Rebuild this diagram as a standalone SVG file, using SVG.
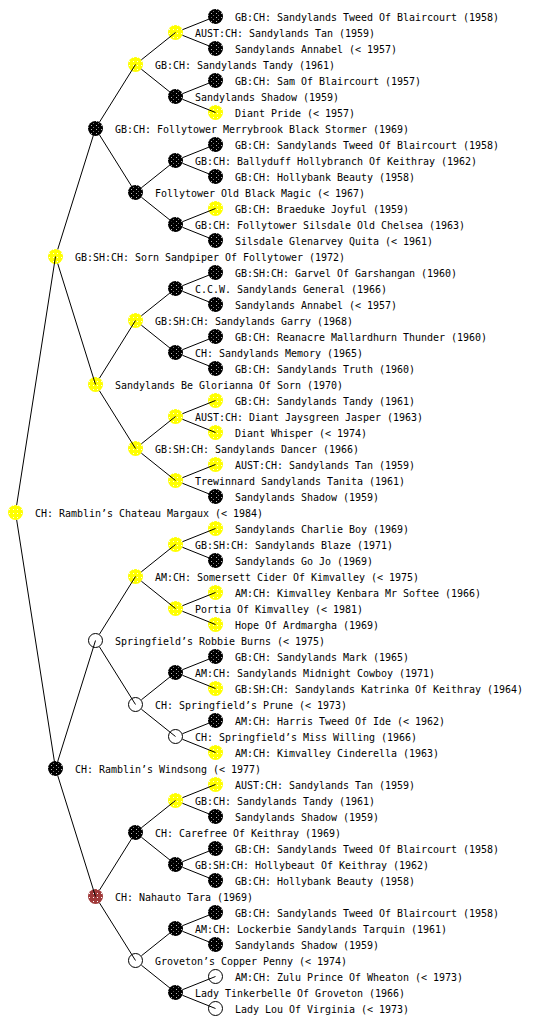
<svg xmlns="http://www.w3.org/2000/svg" width="560" height="1024" viewBox="0 0 560 1024">
<defs>
<pattern id="pb" patternUnits="userSpaceOnUse" x="0" y="0" width="5" height="4"><rect width="5" height="4" fill="#000"/><rect x="1" y="1" width="1" height="1" fill="#bbb"/><rect x="3" y="3" width="1" height="1" fill="#777"/></pattern>
<pattern id="py" patternUnits="userSpaceOnUse" x="0" y="0" width="4" height="4"><rect width="4" height="4" fill="#ffff00"/><rect x="1" y="1" width="1" height="1" fill="#fffff0"/></pattern>
<pattern id="pr" patternUnits="userSpaceOnUse" x="0" y="0" width="4" height="4"><rect width="4" height="4" fill="#a03a3a"/><rect x="1" y="1" width="1" height="1" fill="#fff"/></pattern>
</defs>
<style>
.b{fill:url(#pb)}
.y{fill:url(#py)}
.r{fill:url(#pr)}
.w{fill:#fff;stroke:#000;stroke-width:1}
text{font-family:"DejaVu Sans Mono","Liberation Mono",monospace;font-size:11px;fill:#000}
#connectors line{stroke:#000;stroke-width:1;fill:none}
</style>
<rect width="560" height="1024" fill="#fff"/>
<g id="nodes">
<g id="n0"><circle class="y" cx="15.5" cy="512.5" r="7.5"/><text x="35" y="516.5" textLength="228" lengthAdjust="spacingAndGlyphs">CH: Ramblin’s Chateau Margaux (&lt; 1984)</text></g>
<g id="n1a"><circle class="y" cx="55.5" cy="256.5" r="7.5"/><text x="75" y="260.5" textLength="270" lengthAdjust="spacingAndGlyphs">GB:SH:CH: Sorn Sandpiper Of Follytower (1972)</text></g>
<g id="n1b"><circle class="b" cx="55.5" cy="768.5" r="7.5"/><text x="75" y="772.5" textLength="186" lengthAdjust="spacingAndGlyphs">CH: Ramblin’s Windsong (&lt; 1977)</text></g>
<g id="n2a"><circle class="b" cx="95.5" cy="128.5" r="7.5"/><text x="115" y="132.5" textLength="294" lengthAdjust="spacingAndGlyphs">GB:CH: Follytower Merrybrook Black Stormer (1969)</text></g>
<g id="n2b"><circle class="y" cx="95.5" cy="384.5" r="7.5"/><text x="115" y="388.5" textLength="228" lengthAdjust="spacingAndGlyphs">Sandylands Be Glorianna Of Sorn (1970)</text></g>
<g id="n2c"><circle class="w" cx="95.5" cy="640.5" r="7"/><text x="115" y="644.5" textLength="210" lengthAdjust="spacingAndGlyphs">Springfield’s Robbie Burns (&lt; 1975)</text></g>
<g id="n2d"><circle class="r" cx="95.5" cy="896.5" r="7.5"/><text x="115" y="900.5" textLength="138" lengthAdjust="spacingAndGlyphs">CH: Nahauto Tara (1969)</text></g>
<g id="n3a"><circle class="y" cx="135.5" cy="64.5" r="7.5"/><text x="155" y="68.5" textLength="180" lengthAdjust="spacingAndGlyphs">GB:CH: Sandylands Tandy (1961)</text></g>
<g id="n3b"><circle class="b" cx="135.5" cy="192.5" r="7.5"/><text x="155" y="196.5" textLength="210" lengthAdjust="spacingAndGlyphs">Follytower Old Black Magic (&lt; 1967)</text></g>
<g id="n3c"><circle class="y" cx="135.5" cy="320.5" r="7.5"/><text x="155" y="324.5" textLength="198" lengthAdjust="spacingAndGlyphs">GB:SH:CH: Sandylands Garry (1968)</text></g>
<g id="n3d"><circle class="y" cx="135.5" cy="448.5" r="7.5"/><text x="155" y="452.5" textLength="204" lengthAdjust="spacingAndGlyphs">GB:SH:CH: Sandylands Dancer (1966)</text></g>
<g id="n3e"><circle class="y" cx="135.5" cy="576.5" r="7.5"/><text x="155" y="580.5" textLength="264" lengthAdjust="spacingAndGlyphs">AM:CH: Somersett Cider Of Kimvalley (&lt; 1975)</text></g>
<g id="n3f"><circle class="w" cx="135.5" cy="704.5" r="7"/><text x="155" y="708.5" textLength="192" lengthAdjust="spacingAndGlyphs">CH: Springfield’s Prune (&lt; 1973)</text></g>
<g id="n3g"><circle class="b" cx="135.5" cy="832.5" r="7.5"/><text x="155" y="836.5" textLength="186" lengthAdjust="spacingAndGlyphs">CH: Carefree Of Keithray (1969)</text></g>
<g id="n3h"><circle class="w" cx="135.5" cy="960.5" r="7"/><text x="155" y="964.5" textLength="192" lengthAdjust="spacingAndGlyphs">Groveton’s Copper Penny (&lt; 1974)</text></g>
<g id="n4a"><circle class="y" cx="175.5" cy="32.5" r="7.5"/><text x="195" y="36.5" textLength="180" lengthAdjust="spacingAndGlyphs">AUST:CH: Sandylands Tan (1959)</text></g>
<g id="n4b"><circle class="b" cx="175.5" cy="96.5" r="7.5"/><text x="195" y="100.5" textLength="144" lengthAdjust="spacingAndGlyphs">Sandylands Shadow (1959)</text></g>
<g id="n4c"><circle class="b" cx="175.5" cy="160.5" r="7.5"/><text x="195" y="164.5" textLength="282" lengthAdjust="spacingAndGlyphs">GB:CH: Ballyduff Hollybranch Of Keithray (1962)</text></g>
<g id="n4d"><circle class="b" cx="175.5" cy="224.5" r="7.5"/><text x="195" y="228.5" textLength="270" lengthAdjust="spacingAndGlyphs">GB:CH: Follytower Silsdale Old Chelsea (1963)</text></g>
<g id="n4e"><circle class="b" cx="175.5" cy="288.5" r="7.5"/><text x="195" y="292.5" textLength="192" lengthAdjust="spacingAndGlyphs">C.C.W. Sandylands General (1966)</text></g>
<g id="n4f"><circle class="b" cx="175.5" cy="352.5" r="7.5"/><text x="195" y="356.5" textLength="168" lengthAdjust="spacingAndGlyphs">CH: Sandylands Memory (1965)</text></g>
<g id="n4g"><circle class="y" cx="175.5" cy="416.5" r="7.5"/><text x="195" y="420.5" textLength="228" lengthAdjust="spacingAndGlyphs">AUST:CH: Diant Jaysgreen Jasper (1963)</text></g>
<g id="n4h"><circle class="y" cx="175.5" cy="480.5" r="7.5"/><text x="195" y="484.5" textLength="210" lengthAdjust="spacingAndGlyphs">Trewinnard Sandylands Tanita (1961)</text></g>
<g id="n4i"><circle class="y" cx="175.5" cy="544.5" r="7.5"/><text x="195" y="548.5" textLength="198" lengthAdjust="spacingAndGlyphs">GB:SH:CH: Sandylands Blaze (1971)</text></g>
<g id="n4j"><circle class="y" cx="175.5" cy="608.5" r="7.5"/><text x="195" y="612.5" textLength="168" lengthAdjust="spacingAndGlyphs">Portia Of Kimvalley (&lt; 1981)</text></g>
<g id="n4k"><circle class="b" cx="175.5" cy="672.5" r="7.5"/><text x="195" y="676.5" textLength="240" lengthAdjust="spacingAndGlyphs">AM:CH: Sandylands Midnight Cowboy (1971)</text></g>
<g id="n4l"><circle class="w" cx="175.5" cy="736.5" r="7"/><text x="195" y="740.5" textLength="222" lengthAdjust="spacingAndGlyphs">CH: Springfield’s Miss Willing (1966)</text></g>
<g id="n4m"><circle class="y" cx="175.5" cy="800.5" r="7.5"/><text x="195" y="804.5" textLength="180" lengthAdjust="spacingAndGlyphs">GB:CH: Sandylands Tandy (1961)</text></g>
<g id="n4n"><circle class="b" cx="175.5" cy="864.5" r="7.5"/><text x="195" y="868.5" textLength="234" lengthAdjust="spacingAndGlyphs">GB:SH:CH: Hollybeaut Of Keithray (1962)</text></g>
<g id="n4o"><circle class="b" cx="175.5" cy="928.5" r="7.5"/><text x="195" y="932.5" textLength="252" lengthAdjust="spacingAndGlyphs">AM:CH: Lockerbie Sandylands Tarquin (1961)</text></g>
<g id="n4p"><circle class="b" cx="175.5" cy="992.5" r="7.5"/><text x="195" y="996.5" textLength="210" lengthAdjust="spacingAndGlyphs">Lady Tinkerbelle Of Groveton (1966)</text></g>
<g id="n5-00"><circle class="b" cx="215.5" cy="16.5" r="7.5"/><text x="235" y="20.5" textLength="264" lengthAdjust="spacingAndGlyphs">GB:CH: Sandylands Tweed Of Blaircourt (1958)</text></g>
<g id="n5-01"><circle class="b" cx="215.5" cy="48.5" r="7.5"/><text x="235" y="52.5" textLength="162" lengthAdjust="spacingAndGlyphs">Sandylands Annabel (&lt; 1957)</text></g>
<g id="n5-02"><circle class="b" cx="215.5" cy="80.5" r="7.5"/><text x="235" y="84.5" textLength="186" lengthAdjust="spacingAndGlyphs">GB:CH: Sam Of Blaircourt (1957)</text></g>
<g id="n5-03"><circle class="y" cx="215.5" cy="112.5" r="7.5"/><text x="235" y="116.5" textLength="120" lengthAdjust="spacingAndGlyphs">Diant Pride (&lt; 1957)</text></g>
<g id="n5-04"><circle class="b" cx="215.5" cy="144.5" r="7.5"/><text x="235" y="148.5" textLength="264" lengthAdjust="spacingAndGlyphs">GB:CH: Sandylands Tweed Of Blaircourt (1958)</text></g>
<g id="n5-05"><circle class="b" cx="215.5" cy="176.5" r="7.5"/><text x="235" y="180.5" textLength="180" lengthAdjust="spacingAndGlyphs">GB:CH: Hollybank Beauty (1958)</text></g>
<g id="n5-06"><circle class="y" cx="215.5" cy="208.5" r="7.5"/><text x="235" y="212.5" textLength="174" lengthAdjust="spacingAndGlyphs">GB:CH: Braeduke Joyful (1959)</text></g>
<g id="n5-07"><circle class="b" cx="215.5" cy="240.5" r="7.5"/><text x="235" y="244.5" textLength="198" lengthAdjust="spacingAndGlyphs">Silsdale Glenarvey Quita (&lt; 1961)</text></g>
<g id="n5-08"><circle class="b" cx="215.5" cy="272.5" r="7.5"/><text x="235" y="276.5" textLength="222" lengthAdjust="spacingAndGlyphs">GB:SH:CH: Garvel Of Garshangan (1960)</text></g>
<g id="n5-09"><circle class="b" cx="215.5" cy="304.5" r="7.5"/><text x="235" y="308.5" textLength="162" lengthAdjust="spacingAndGlyphs">Sandylands Annabel (&lt; 1957)</text></g>
<g id="n5-10"><circle class="b" cx="215.5" cy="336.5" r="7.5"/><text x="235" y="340.5" textLength="252" lengthAdjust="spacingAndGlyphs">GB:CH: Reanacre Mallardhurn Thunder (1960)</text></g>
<g id="n5-11"><circle class="b" cx="215.5" cy="368.5" r="7.5"/><text x="235" y="372.5" textLength="180" lengthAdjust="spacingAndGlyphs">GB:CH: Sandylands Truth (1960)</text></g>
<g id="n5-12"><circle class="y" cx="215.5" cy="400.5" r="7.5"/><text x="235" y="404.5" textLength="180" lengthAdjust="spacingAndGlyphs">GB:CH: Sandylands Tandy (1961)</text></g>
<g id="n5-13"><circle class="y" cx="215.5" cy="432.5" r="7.5"/><text x="235" y="436.5" textLength="132" lengthAdjust="spacingAndGlyphs">Diant Whisper (&lt; 1974)</text></g>
<g id="n5-14"><circle class="y" cx="215.5" cy="464.5" r="7.5"/><text x="235" y="468.5" textLength="180" lengthAdjust="spacingAndGlyphs">AUST:CH: Sandylands Tan (1959)</text></g>
<g id="n5-15"><circle class="b" cx="215.5" cy="496.5" r="7.5"/><text x="235" y="500.5" textLength="144" lengthAdjust="spacingAndGlyphs">Sandylands Shadow (1959)</text></g>
<g id="n5-16"><circle class="y" cx="215.5" cy="528.5" r="7.5"/><text x="235" y="532.5" textLength="174" lengthAdjust="spacingAndGlyphs">Sandylands Charlie Boy (1969)</text></g>
<g id="n5-17"><circle class="b" cx="215.5" cy="560.5" r="7.5"/><text x="235" y="564.5" textLength="138" lengthAdjust="spacingAndGlyphs">Sandylands Go Jo (1969)</text></g>
<g id="n5-18"><circle class="y" cx="215.5" cy="592.5" r="7.5"/><text x="235" y="596.5" textLength="246" lengthAdjust="spacingAndGlyphs">AM:CH: Kimvalley Kenbara Mr Softee (1966)</text></g>
<g id="n5-19"><circle class="y" cx="215.5" cy="624.5" r="7.5"/><text x="235" y="628.5" textLength="144" lengthAdjust="spacingAndGlyphs">Hope Of Ardmargha (1969)</text></g>
<g id="n5-20"><circle class="b" cx="215.5" cy="656.5" r="7.5"/><text x="235" y="660.5" textLength="174" lengthAdjust="spacingAndGlyphs">GB:CH: Sandylands Mark (1965)</text></g>
<g id="n5-21"><circle class="y" cx="215.5" cy="688.5" r="7.5"/><text x="235" y="692.5" textLength="288" lengthAdjust="spacingAndGlyphs">GB:SH:CH: Sandylands Katrinka Of Keithray (1964)</text></g>
<g id="n5-22"><circle class="b" cx="215.5" cy="720.5" r="7.5"/><text x="235" y="724.5" textLength="210" lengthAdjust="spacingAndGlyphs">AM:CH: Harris Tweed Of Ide (&lt; 1962)</text></g>
<g id="n5-23"><circle class="y" cx="215.5" cy="752.5" r="7.5"/><text x="235" y="756.5" textLength="204" lengthAdjust="spacingAndGlyphs">AM:CH: Kimvalley Cinderella (1963)</text></g>
<g id="n5-24"><circle class="y" cx="215.5" cy="784.5" r="7.5"/><text x="235" y="788.5" textLength="180" lengthAdjust="spacingAndGlyphs">AUST:CH: Sandylands Tan (1959)</text></g>
<g id="n5-25"><circle class="b" cx="215.5" cy="816.5" r="7.5"/><text x="235" y="820.5" textLength="144" lengthAdjust="spacingAndGlyphs">Sandylands Shadow (1959)</text></g>
<g id="n5-26"><circle class="b" cx="215.5" cy="848.5" r="7.5"/><text x="235" y="852.5" textLength="264" lengthAdjust="spacingAndGlyphs">GB:CH: Sandylands Tweed Of Blaircourt (1958)</text></g>
<g id="n5-27"><circle class="b" cx="215.5" cy="880.5" r="7.5"/><text x="235" y="884.5" textLength="180" lengthAdjust="spacingAndGlyphs">GB:CH: Hollybank Beauty (1958)</text></g>
<g id="n5-28"><circle class="b" cx="215.5" cy="912.5" r="7.5"/><text x="235" y="916.5" textLength="264" lengthAdjust="spacingAndGlyphs">GB:CH: Sandylands Tweed Of Blaircourt (1958)</text></g>
<g id="n5-29"><circle class="b" cx="215.5" cy="944.5" r="7.5"/><text x="235" y="948.5" textLength="144" lengthAdjust="spacingAndGlyphs">Sandylands Shadow (1959)</text></g>
<g id="n5-30"><circle class="w" cx="215.5" cy="976.5" r="7"/><text x="235" y="980.5" textLength="228" lengthAdjust="spacingAndGlyphs">AM:CH: Zulu Prince Of Wheaton (&lt; 1973)</text></g>
<g id="n5-31"><circle class="w" cx="215.5" cy="1008.5" r="7"/><text x="235" y="1012.5" textLength="174" lengthAdjust="spacingAndGlyphs">Lady Lou Of Virginia (&lt; 1973)</text></g>
</g>
<g id="connectors">
<line x1="16.66" y1="505.09" x2="55.5" y2="256.5"/>
<line x1="16.66" y1="519.91" x2="55.5" y2="768.5"/>
<line x1="57.74" y1="249.34" x2="95.5" y2="128.5"/>
<line x1="57.74" y1="263.66" x2="95.5" y2="384.5"/>
<line x1="57.74" y1="761.34" x2="95.5" y2="640.5"/>
<line x1="57.74" y1="775.66" x2="95.5" y2="896.5"/>
<line x1="99.48" y1="122.14" x2="135.5" y2="64.5"/>
<line x1="99.48" y1="134.86" x2="135.5" y2="192.5"/>
<line x1="99.48" y1="378.14" x2="135.5" y2="320.5"/>
<line x1="99.48" y1="390.86" x2="135.5" y2="448.5"/>
<line x1="99.48" y1="634.14" x2="135.5" y2="576.5"/>
<line x1="99.48" y1="646.86" x2="135.5" y2="704.5"/>
<line x1="99.48" y1="890.14" x2="135.5" y2="832.5"/>
<line x1="99.48" y1="902.86" x2="135.5" y2="960.5"/>
<line x1="141.36" y1="59.81" x2="175.5" y2="32.5"/>
<line x1="141.36" y1="69.19" x2="175.5" y2="96.5"/>
<line x1="141.36" y1="187.81" x2="175.5" y2="160.5"/>
<line x1="141.36" y1="197.19" x2="175.5" y2="224.5"/>
<line x1="141.36" y1="315.81" x2="175.5" y2="288.5"/>
<line x1="141.36" y1="325.19" x2="175.5" y2="352.5"/>
<line x1="141.36" y1="443.81" x2="175.5" y2="416.5"/>
<line x1="141.36" y1="453.19" x2="175.5" y2="480.5"/>
<line x1="141.36" y1="571.81" x2="175.5" y2="544.5"/>
<line x1="141.36" y1="581.19" x2="175.5" y2="608.5"/>
<line x1="141.36" y1="699.81" x2="175.5" y2="672.5"/>
<line x1="141.36" y1="709.19" x2="175.5" y2="736.5"/>
<line x1="141.36" y1="827.81" x2="175.5" y2="800.5"/>
<line x1="141.36" y1="837.19" x2="175.5" y2="864.5"/>
<line x1="141.36" y1="955.81" x2="175.5" y2="928.5"/>
<line x1="141.36" y1="965.19" x2="175.5" y2="992.5"/>
<line x1="182.46" y1="29.71" x2="215.5" y2="16.5"/>
<line x1="182.46" y1="35.29" x2="215.5" y2="48.5"/>
<line x1="182.46" y1="93.71" x2="215.5" y2="80.5"/>
<line x1="182.46" y1="99.29" x2="215.5" y2="112.5"/>
<line x1="182.46" y1="157.71" x2="215.5" y2="144.5"/>
<line x1="182.46" y1="163.29" x2="215.5" y2="176.5"/>
<line x1="182.46" y1="221.71" x2="215.5" y2="208.5"/>
<line x1="182.46" y1="227.29" x2="215.5" y2="240.5"/>
<line x1="182.46" y1="285.71" x2="215.5" y2="272.5"/>
<line x1="182.46" y1="291.29" x2="215.5" y2="304.5"/>
<line x1="182.46" y1="349.71" x2="215.5" y2="336.5"/>
<line x1="182.46" y1="355.29" x2="215.5" y2="368.5"/>
<line x1="182.46" y1="413.71" x2="215.5" y2="400.5"/>
<line x1="182.46" y1="419.29" x2="215.5" y2="432.5"/>
<line x1="182.46" y1="477.71" x2="215.5" y2="464.5"/>
<line x1="182.46" y1="483.29" x2="215.5" y2="496.5"/>
<line x1="182.46" y1="541.71" x2="215.5" y2="528.5"/>
<line x1="182.46" y1="547.29" x2="215.5" y2="560.5"/>
<line x1="182.46" y1="605.71" x2="215.5" y2="592.5"/>
<line x1="182.46" y1="611.29" x2="215.5" y2="624.5"/>
<line x1="182.46" y1="669.71" x2="215.5" y2="656.5"/>
<line x1="182.46" y1="675.29" x2="215.5" y2="688.5"/>
<line x1="182.46" y1="733.71" x2="215.5" y2="720.5"/>
<line x1="182.46" y1="739.29" x2="215.5" y2="752.5"/>
<line x1="182.46" y1="797.71" x2="215.5" y2="784.5"/>
<line x1="182.46" y1="803.29" x2="215.5" y2="816.5"/>
<line x1="182.46" y1="861.71" x2="215.5" y2="848.5"/>
<line x1="182.46" y1="867.29" x2="215.5" y2="880.5"/>
<line x1="182.46" y1="925.71" x2="215.5" y2="912.5"/>
<line x1="182.46" y1="931.29" x2="215.5" y2="944.5"/>
<line x1="182.46" y1="989.71" x2="215.5" y2="976.5"/>
<line x1="182.46" y1="995.29" x2="215.5" y2="1008.5"/>
</g>
</svg>
